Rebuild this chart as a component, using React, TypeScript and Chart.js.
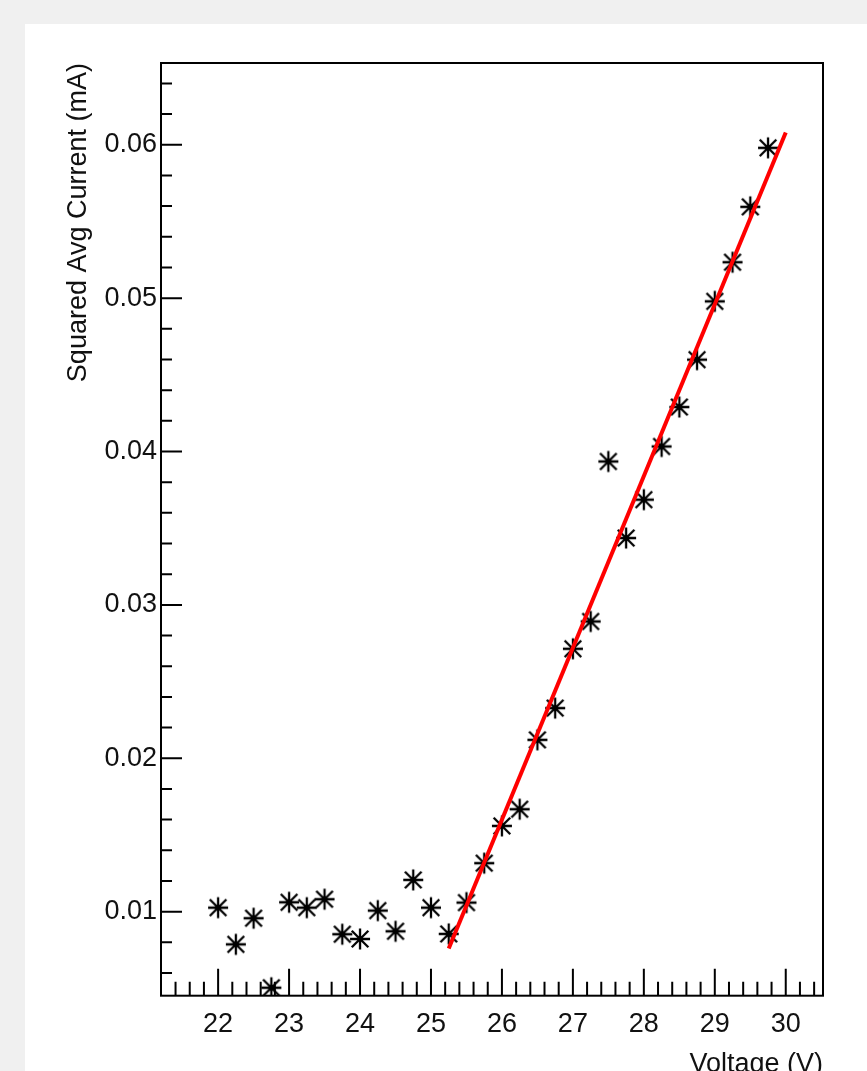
import React, { useEffect, useRef } from "react";
import { Chart, registerables } from "chart.js";

Chart.register(...registerables);

// ---- data ----
const voltages = [
  22, 22.25, 22.5, 22.75, 23, 23.25, 23.5, 23.75, 24, 24.25, 24.5, 24.75,
  25, 25.25, 25.5, 25.75, 26, 26.25, 26.5, 26.75, 27, 27.25, 27.5, 27.75,
  28, 28.25, 28.5, 28.75, 29, 29.25, 29.5, 29.75,
];
const currents = [
  0.01026, 0.00787, 0.00957, 0.00504, 0.01061, 0.01026, 0.01081, 0.00853,
  0.00822, 0.01007, 0.00872, 0.01207, 0.01026, 0.00855, 0.01059, 0.01316,
  0.01559, 0.01668, 0.0212, 0.02327, 0.02714, 0.02892, 0.03935, 0.03436,
  0.03686, 0.04033, 0.0429, 0.04599, 0.04979, 0.05234, 0.05595, 0.0598,
];
const fitVoltages = [25.25, 30.0];
const fitCurrents = [0.0076, 0.0608];

const xTickValues = [22, 23, 24, 25, 26, 27, 28, 29, 30];
const xTickLabels = ["22", "23", "24", "25", "26", "27", "28", "29", "30"];
const yTickValues = [0.01, 0.02, 0.03, 0.04, 0.05, 0.06];
const yTickLabels = ["0.01", "0.02", "0.03", "0.04", "0.05", "0.06"];

const xRange = [21.195, 30.525];
const yRange = [0.00452, 0.06533];

const xTitle = "Voltage (V)";
const yTitle = "Squared Avg Current (mA)";

// ---- layout / style ----
const CANVAS_W = 842;
const CANVAS_H = 1060;
const FONT = { family: "'Liberation Sans', Arial, sans-serif", size: 27 };
const TEXT_COLOR = "#111";

function makeAsterisk(): HTMLCanvasElement {
  const size = 26;
  const c = document.createElement("canvas");
  c.width = size;
  c.height = size;
  const g = c.getContext("2d")!;
  const cx = size / 2;
  const cy = size / 2;
  g.strokeStyle = "#000";
  g.lineWidth = 2.3;
  g.lineCap = "butt";
  g.beginPath();
  g.moveTo(cx - 10, cy);
  g.lineTo(cx + 10, cy);
  g.moveTo(cx, cy - 10.5);
  g.lineTo(cx, cy + 10.5);
  g.moveTo(cx - 8.3, cy - 8.3);
  g.lineTo(cx + 8.3, cy + 8.3);
  g.moveTo(cx - 8.3, cy + 8.3);
  g.lineTo(cx + 8.3, cy - 8.3);
  g.stroke();
  return c;
}

const framePlugin = {
  id: "rootFrame",
  beforeDatasetsDraw(chart: any) {
    const { ctx, chartArea, scales } = chart;
    const { left, top, right, bottom } = chartArea;
    const xs = scales.x;
    const ys = scales.y;
    ctx.save();
    ctx.strokeStyle = "#000";
    ctx.lineWidth = 2;
    ctx.strokeRect(left, top, right - left, bottom - top);

    ctx.beginPath();
    const xMinorStep = 0.2;
    const xStart = Math.ceil(xs.min / xMinorStep - 1e-9);
    const xEnd = Math.floor(xs.max / xMinorStep + 1e-9);
    for (let i = xStart; i <= xEnd; i++) {
      const v = i * xMinorStep;
      const px = xs.getPixelForValue(v);
      if (px <= left + 1.5 || px >= right - 1.5) continue;
      const major = i % 5 === 0;
      const len = major ? 27 : 14;
      ctx.moveTo(px, bottom);
      ctx.lineTo(px, bottom - len);
    }
    const yMinorStep = 0.002;
    const yStart = Math.ceil(ys.min / yMinorStep - 1e-9);
    const yEnd = Math.floor(ys.max / yMinorStep + 1e-9);
    for (let i = yStart; i <= yEnd; i++) {
      const v = i * yMinorStep;
      const py = ys.getPixelForValue(v);
      if (py <= top + 1.5 || py >= bottom - 1.5) continue;
      const major = i % 5 === 0;
      const len = major ? 21 : 11;
      ctx.moveTo(left, py);
      ctx.lineTo(left + len, py);
    }
    ctx.stroke();
    ctx.restore();
  },
};

export default function App() {
  const canvasRef = useRef<HTMLCanvasElement | null>(null);

  useEffect(() => {
    const canvas = canvasRef.current;
    if (!canvas) return;
    const marker = makeAsterisk();
    const chart = new Chart(canvas, {
      type: "scatter",
      data: {
        datasets: [
          {
            label: "fit",
            data: fitVoltages.map((x, i) => ({ x, y: fitCurrents[i] })),
            showLine: true,
            borderColor: "#ff0000",
            borderWidth: 4,
            pointRadius: 0,
            tension: 0,
            fill: false,
            clip: 0,
          } as any,
          {
            label: "data",
            data: voltages.map((x, i) => ({ x, y: currents[i] })),
            pointStyle: marker,
            pointRadius: 11,
            borderColor: "#000",
            borderWidth: 0,
            showLine: false,
            clip: 0,
          } as any,
        ],
      },
      options: {
        responsive: false,
        animation: false,
        devicePixelRatio: 1,
        layout: { padding: { top: 39, right: 44, left: 0, bottom: 0 } },
        plugins: {
          legend: { display: false },
          tooltip: { enabled: false },
        },
        scales: {
          x: {
            type: "linear",
            min: xRange[0],
            max: xRange[1],
            grid: { display: false, drawTicks: false },
            border: { display: false },
            ticks: {
              font: FONT,
              color: TEXT_COLOR,
              padding: 13,
              autoSkip: false,
              maxRotation: 0,
              callback: (v: any) => {
                const k = xTickValues.indexOf(Number(v));
                return k >= 0 ? xTickLabels[k] : "";
              },
            },
            afterBuildTicks: (s: any) => {
              s.ticks = xTickValues.map((value) => ({ value }));
            },
            afterFit: (s: any) => {
              s.height = 88.3;
            },
            title: {
              display: true,
              text: xTitle,
              align: "end",
              font: FONT,
              color: TEXT_COLOR,
              padding: { top: 0, bottom: 3 },
            },
          },
          y: {
            type: "linear",
            min: yRange[0],
            max: yRange[1],
            grid: { display: false, drawTicks: false },
            border: { display: false },
            ticks: {
              font: FONT,
              color: TEXT_COLOR,
              padding: 4,
              autoSkip: false,
              callback: (v: any) => {
                const k = yTickValues.indexOf(Number(v));
                return k >= 0 ? yTickLabels[k] : "";
              },
            },
            afterBuildTicks: (s: any) => {
              s.ticks = yTickValues.map((value) => ({ value }));
            },
            afterFit: (s: any) => {
              s.width = 136;
            },
            title: {
              display: true,
              text: yTitle,
              align: "end",
              font: FONT,
              color: TEXT_COLOR,
              padding: { top: 37.7, bottom: 0 },
            },
          },
        },
      } as any,
      plugins: [framePlugin],
    });
    return () => chart.destroy();
  }, []);

  return (
    <div
      style={{
        position: "fixed",
        left: 0,
        top: 0,
        width: 867,
        height: 1071,
        overflow: "hidden",
        background: "#f0f0f0",
      }}
    >
      <div
        style={{
          position: "absolute",
          left: 25,
          top: 24,
          width: CANVAS_W,
          height: CANVAS_H,
          background: "#ffffff",
        }}
      >
        <canvas
          ref={canvasRef}
          width={CANVAS_W}
          height={CANVAS_H}
          style={{ display: "block", width: CANVAS_W, height: CANVAS_H }}
        />
      </div>
    </div>
  );
}
